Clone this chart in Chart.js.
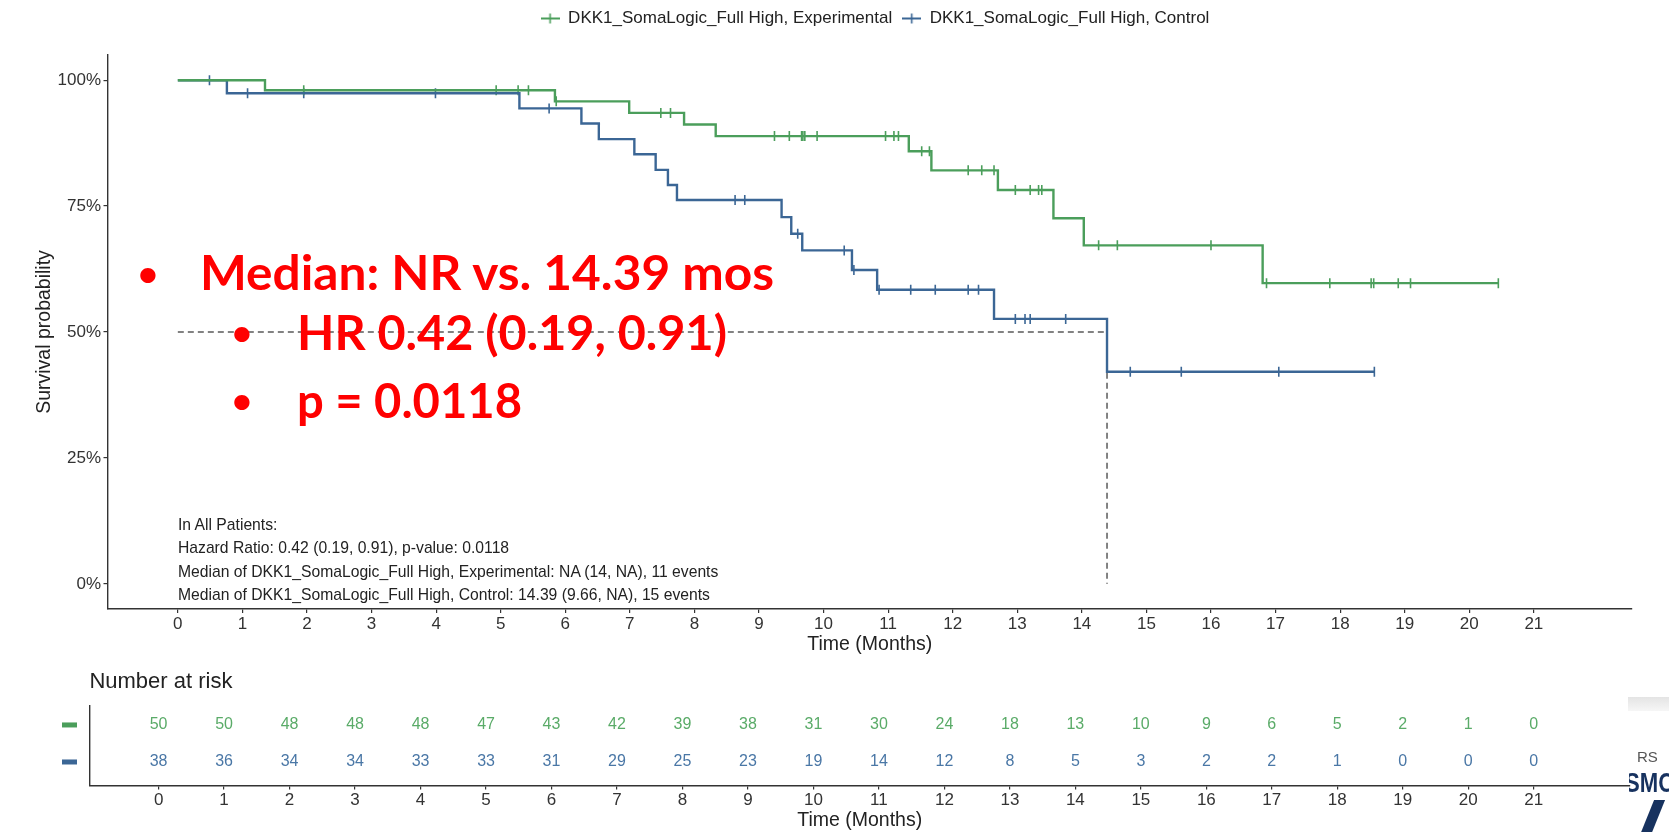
<!DOCTYPE html>
<html>
<head>
<meta charset="utf-8">
<title>DKK1 SomaLogic Full High - Kaplan-Meier</title>
<script src="https://cdn.jsdelivr.net/npm/chart.js@4.4.1/dist/chart.umd.min.js"></script>
<style>
    html, body { margin: 0; padding: 0; background: #fff; }
    body { width: 1669px; height: 832px; position: relative; overflow: hidden; font-family: "Liberation Sans", Arial, sans-serif; }
    #km { position: absolute; left: 0; top: 0; }
    #risk { position: absolute; left: 0; top: 665px; }
    .note { position: absolute; left: 178px; font-size: 15.7px; line-height: 15.7px; color: #222; white-space: nowrap; }
    .red { position: absolute; color: #ff0000; font-family: Lato, "Open Sans", sans-serif; font-weight: bold; font-size: 47.5px; line-height: 47.5px; white-space: nowrap; transform-origin: 0 0; }
    .bullet { width: 40px; text-align: center; font-size: 35px; line-height: 35px; }
    #logoBar { position: absolute; left: 1628px; top: 697px; width: 41px; height: 14px; background: linear-gradient(#e4e4e4, #f6f6f6); }
    #logoRS { position: absolute; left: 1637px; top: 748px; font-family: "Liberation Sans Narrow", sans-serif; font-size: 15px; color: #555; }
    #logoSMO { position: absolute; left: 1629px; top: 768px; width: 40px; height: 30px; overflow: hidden; }
    #logoSMO span { position: absolute; left: -4px; top: 0; font-family: "Liberation Sans Narrow", sans-serif; font-weight: bold; font-size: 27px; line-height: 30px; color: #17325f; transform: scaleX(0.82); transform-origin: 0 0; }
    #logoSlash { position: absolute; left: 1646px; top: 800px; width: 11px; height: 40px; background: #17325f; transform: skewX(-22deg); }
</style>
</head>
<body>
<canvas id="km" width="1669" height="665"></canvas>
<canvas id="risk" width="1669" height="167"></canvas>

<div class="note" data-base="530.5">In All Patients:</div>
<div class="note" data-base="553.8">Hazard Ratio: 0.42 (0.19, 0.91), p-value: 0.0118</div>
<div class="note" data-base="577.2">Median of DKK1_SomaLogic_Full High, Experimental: NA (14, NA), 11 events</div>
<div class="note" data-base="600.6">Median of DKK1_SomaLogic_Full High, Control: 14.39 (9.66, NA), 15 events</div>

<div class="red bullet" style="left:128px" data-base="286.4">•</div>
<div class="red" style="left:200px" data-base="290.6" data-width="574">Median: NR vs. 14.39 mos</div>
<div class="red bullet" style="left:222px" data-base="345">•</div>
<div class="red" style="left:297px" data-base="350" data-width="430">HR 0.42 (0.19, 0.91)</div>
<div class="red bullet" style="left:222px" data-base="413">•</div>
<div class="red" style="left:297px" data-base="418" data-width="225">p = 0.0118</div>

<div id="logoBar"></div>
<div id="logoRS">RS</div>
<div id="logoSMO"><span>SMO</span></div>
<div id="logoSlash"></div>

<script>
// time axis (months)
const xTicks = [0, 1, 2, 3, 4, 5, 6, 7, 8, 9, 10, 11, 12, 13, 14, 15, 16, 17, 18, 19, 20, 21];
const yTicks = [0, 25, 50, 75, 100];

// Kaplan-Meier steps, Experimental arm (time of each step, survival % after it)
const expTimes = [0, 1.35, 5.84, 6.99, 7.84, 8.33, 11.32, 11.67, 12.70, 13.56, 14.03, 16.80, 20.45];
const expSurv  = [100, 98.0, 95.8, 93.5, 91.2, 88.9, 85.9, 82.1, 78.2, 72.6, 67.2, 59.7, 59.7];
const expCensor = [1.95, 4.93, 5.27, 5.43, 5.86, 7.48, 7.63, 9.24, 9.47, 9.66, 9.68, 9.71, 9.90,
                   10.96, 11.09, 11.16, 11.52, 11.64, 12.24, 12.45, 12.64, 12.97, 13.20, 13.33, 13.38,
                   14.26, 14.55, 16.00, 16.86, 17.84, 18.48, 18.52, 18.90, 19.09, 20.45];

// Control arm
const ctlTimes = [0, 0.76, 5.29, 6.25, 6.52, 7.07, 7.40, 7.59, 7.73, 9.35, 9.50, 9.67, 10.44, 10.83, 12.64, 14.39, 18.53];
const ctlSurv  = [100, 97.4, 94.4, 91.4, 88.3, 85.3, 82.2, 79.2, 76.2, 72.8, 69.5, 66.2, 62.3, 58.4, 52.6, 42.1, 42.1];
const ctlCensor = [0.49, 1.08, 1.95, 3.99, 5.75, 8.63, 8.78, 9.60, 10.32, 10.47, 10.86, 11.35, 11.73,
                   12.24, 12.40, 12.97, 13.12, 13.20, 13.75, 14.75, 15.54, 17.05, 18.53];
const ctlMedian = 14.39;

// number at risk
const riskTimes = [0, 1, 2, 3, 4, 5, 6, 7, 8, 9, 10, 11, 12, 13, 14, 15, 16, 17, 18, 19, 20, 21];
const riskExp = [50, 50, 48, 48, 48, 47, 43, 42, 39, 38, 31, 30, 24, 18, 13, 10, 9, 6, 5, 2, 1, 0];
const riskCtl = [38, 36, 34, 34, 33, 33, 31, 29, 25, 23, 19, 14, 12, 8, 5, 3, 2, 2, 1, 0, 0, 0];

const GREEN = '#4b9e5b';
const BLUE = '#3b6695';
const GREEN_TXT = '#5aab68';
const BLUE_TXT = '#4a77a6';
const FAMILY = '"Liberation Sans", Arial, sans-serif';

Chart.defaults.font.family = FAMILY;
Chart.defaults.color = '#333';

function levelAt(times, surv, t) {
    let v = surv[0];
    for (let i = 0; i < times.length; i++) {
        if (times[i] <= t) v = surv[i];
    }
    return v;
}

function legendMark(color) {
    const c = document.createElement('canvas');
    c.width = 19;
    c.height = 11;
    const g = c.getContext('2d');
    g.strokeStyle = color;
    g.lineWidth = 2;
    g.beginPath(); g.moveTo(0, 5.5); g.lineTo(19, 5.5); g.stroke();
    g.lineWidth = 1.6;
    g.beginPath(); g.moveTo(9.5, 0.5); g.lineTo(9.5, 10.5); g.stroke();
    return c;
}

const legendTweak = {
    id: 'legendTweak',
    beforeInit(chart) {
        const lg = chart.legend;
        if (!lg) return;
        const fit = lg.fit;
        lg.fit = function() {
            fit.call(this);
            this.height = 55;
        };
    },
    beforeDraw(chart) {
        const lg = chart.legend;
        if (!lg) return;
        const dx = 875 - (lg.left + lg.right) / 2;
        lg.left += dx;
        lg.right += dx;
    }
};

const axisGrid = { drawOnChartArea: false, drawTicks: true, tickLength: 4, color: '#333', lineWidth: 1.2 };
const axisBorder = { display: true, color: '#333', width: 1.4 };

const kmChart = new Chart(document.getElementById('km'), {
    type: 'line',
    data: {
        datasets: [
            {
                label: 'DKK1_SomaLogic_Full High, Experimental',
                data: expTimes.map((t, i) => ({ x: t, y: expSurv[i] })),
                borderColor: GREEN, borderWidth: 2.4, stepped: true,
                pointRadius: 0, pointStyle: legendMark(GREEN), fill: false
            },
            {
                label: 'DKK1_SomaLogic_Full High, Control',
                data: ctlTimes.map((t, i) => ({ x: t, y: ctlSurv[i] })),
                borderColor: BLUE, borderWidth: 2.4, stepped: true,
                pointRadius: 0, pointStyle: legendMark(BLUE), fill: false
            },
            {
                label: 'exp censored', type: 'scatter',
                data: expCensor.map(t => ({ x: t, y: levelAt(expTimes, expSurv, t) })),
                pointStyle: 'line', rotation: 90, radius: 5, borderColor: GREEN, borderWidth: 1.6
            },
            {
                label: 'ctl censored', type: 'scatter',
                data: ctlCensor.map(t => ({ x: t, y: levelAt(ctlTimes, ctlSurv, t) })),
                pointStyle: 'line', rotation: 90, radius: 5, borderColor: BLUE, borderWidth: 1.6
            },
            {
                label: 'median',
                data: [{ x: 0, y: 50 }, { x: ctlMedian, y: 50 }, { x: ctlMedian, y: 0 }],
                borderColor: '#5a5a5a', borderWidth: 1.5, borderDash: [6, 4], pointRadius: 0, fill: false
            }
        ]
    },
    options: {
        responsive: false,
        animation: false,
        layout: { padding: { left: 0, right: 37, top: 0, bottom: 0 } },
        plugins: {
            tooltip: { enabled: false },
            legend: {
                position: 'top',
                labels: {
                    usePointStyle: true,
                    pointStyleWidth: 19,
                    padding: 10,
                    color: '#222',
                    font: { size: 17 },
                    filter: item => item.datasetIndex < 2
                }
            }
        },
        scales: {
            x: {
                type: 'linear', min: -1.089, max: 22.52,
                afterBuildTicks: s => { s.ticks = xTicks.map(v => ({ value: v })); },
                afterFit: s => { s.height = 56; },
                grid: axisGrid, border: axisBorder,
                ticks: { color: '#333', font: { size: 17, lineHeight: 1 }, padding: 3, maxRotation: 0, autoSkip: false },
                title: { display: true, text: 'Time (Months)', color: '#222', font: { size: 19.5 }, padding: { top: 0, bottom: 8.3 } }
            },
            y: {
                type: 'linear', min: -5, max: 105,
                afterBuildTicks: s => { s.ticks = yTicks.map(v => ({ value: v })); },
                afterFit: s => { s.width = 107.5; },
                grid: axisGrid, border: axisBorder,
                ticks: { color: '#333', font: { size: 17 }, padding: 2.5, callback: v => v + '%' },
                title: { display: true, text: 'Survival probability', color: '#222', font: { size: 19.5 }, padding: { top: 33, bottom: 0 } }
            }
        }
    },
    plugins: [legendTweak]
});

const riskNumbers = {
    id: 'riskNumbers',
    afterDatasetsDraw(chart) {
        const ctx = chart.ctx;
        chart.data.datasets.forEach((ds, di) => {
            const meta = chart.getDatasetMeta(di);
            ctx.save();
            ctx.fillStyle = ds.textColor;
            ctx.font = '16px ' + FAMILY;
            ctx.textAlign = 'center';
            ctx.textBaseline = 'middle';
            meta.data.forEach((pt, i) => ctx.fillText(String(ds.counts[i]), pt.x, pt.y));
            // coloured strata key left of the table
            ctx.fillStyle = ds.keyColor;
            ctx.fillRect(chart.chartArea.left - 27.4, meta.data[0].y - 2.5, 15, 5);
            ctx.restore();
        });
    }
};

const riskChart = new Chart(document.getElementById('risk'), {
    type: 'scatter',
    data: {
        datasets: [
            { label: 'Experimental', data: riskTimes.map(t => ({ x: t, y: 2 })), counts: riskExp, textColor: GREEN_TXT, keyColor: GREEN, pointRadius: 0 },
            { label: 'Control', data: riskTimes.map(t => ({ x: t, y: 1 })), counts: riskCtl, textColor: BLUE_TXT, keyColor: BLUE, pointRadius: 0 }
        ]
    },
    options: {
        responsive: false,
        animation: false,
        layout: { padding: { left: 89.4, right: 39, top: 0, bottom: 0 } },
        plugins: {
            tooltip: { enabled: false },
            legend: { display: false },
            title: {
                display: true, text: 'Number at risk', align: 'start', color: '#222',
                font: { size: 22, weight: 'normal' }, padding: { top: 4, bottom: 10.3 }
            }
        },
        scales: {
            x: {
                type: 'linear', min: -1.057, max: 22.47,
                afterBuildTicks: s => { s.ticks = riskTimes.map(v => ({ value: v })); },
                afterFit: s => { s.height = 46.5; },
                grid: axisGrid, border: axisBorder,
                ticks: { color: '#333', font: { size: 17, lineHeight: 1 }, padding: 2, maxRotation: 0, autoSkip: false },
                title: { display: true, text: 'Time (Months)', color: '#222', font: { size: 19.5, lineHeight: 1 }, padding: { top: 0, bottom: 1.2 } }
            },
            y: {
                type: 'linear', min: 0.365, max: 2.52,
                afterFit: s => { s.width = 0; },
                grid: { display: false },
                border: axisBorder,
                ticks: { display: false }
            }
        }
    },
    plugins: [riskNumbers]
});

// place overlay text by its baseline
const measure = document.createElement('canvas').getContext('2d');
document.querySelectorAll('[data-base]').forEach(el => {
    const cs = getComputedStyle(el);
    const fs = parseFloat(cs.fontSize);
    measure.font = cs.fontWeight + ' ' + cs.fontSize + ' ' + cs.fontFamily;
    const m = measure.measureText('Hg');
    const asc = m.fontBoundingBoxAscent, desc = m.fontBoundingBoxDescent;
    const base = parseFloat(el.dataset.base);
    el.style.top = (base - ((fs - (asc + desc)) / 2 + asc)) + 'px';
    if (el.dataset.width) {
        const w = el.getBoundingClientRect().width;
        el.style.transform = 'scaleX(' + (parseFloat(el.dataset.width) / w) + ')';
    }
});
</script>
</body>
</html>
